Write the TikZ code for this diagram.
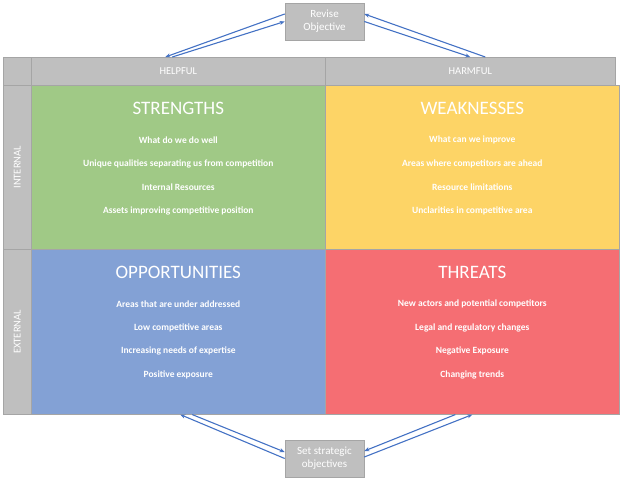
\documentclass[tikz,border=0pt]{standalone}
\usepackage{fontspec}
\setmainfont{Carlito}
\usetikzlibrary{arrows.meta}
\definecolor{cellgray}{HTML}{BFBFBF}
\definecolor{edgegray}{HTML}{A5A5A5}
\definecolor{sgreen}{HTML}{A0C986}
\definecolor{wyellow}{HTML}{FDD466}
\definecolor{oblue}{HTML}{83A1D5}
\definecolor{tred}{HTML}{F56E73}
\definecolor{arrowblue}{HTML}{4472C4}
\tikzset{
    cell/.style={draw=edgegray,fill=cellgray,line width=0.6pt,text=white,
        inner sep=0pt,font=\fontsize{10.5}{12}\selectfont},
    quad/.style={draw=edgegray,line width=0.6pt,inner sep=0pt,
        minimum width=294pt,minimum height=165pt},
    loop/.style={-{Stealth[length=5pt,width=4pt]},draw=arrowblue,line width=1.1pt},
}
\newcommand\Quadrant[6]{%
    \node[quad,fill=#4,anchor=north west] (#1) at (#2,#3) {};
    \node[text=white,font=\fontsize{19}{19}\selectfont] at ([yshift=-23.5pt]#1.north) {#5};
    \foreach \item [count=\i] in {#6} {
        \node[text=white,font=\fontsize{9.5}{10}\selectfont\bfseries]
            at ([yshift=-31.5pt-23.5pt*\i]#1.north) {\item};
    }
}

\begin{document}
\begin{tikzpicture}[x=1pt,y=-1pt]
    \useasboundingbox (0,0) rectangle (622,480);
    % header row and side column
    \node[cell,anchor=north west,minimum width=28pt,minimum height=28pt] (corner) at (3,57) {};
    \node[cell,anchor=north west,minimum width=294pt,minimum height=28pt] (helpful) at (31,57) {HELPFUL};
    \node[cell,anchor=north west,minimum width=290pt,minimum height=28pt] (harmful) at (325,57) {HARMFUL};
    \node[cell,anchor=north west,minimum width=28pt,minimum height=164pt] (internal) at (3,85) {};
    \node[cell,anchor=north west,minimum width=28pt,minimum height=165pt] (external) at (3,249) {};
    \node[text=white,rotate=90,font=\fontsize{10.5}{12}\selectfont] at (internal.center) {INTERNAL};
    \node[text=white,rotate=90,font=\fontsize{10.5}{12}\selectfont] at (external.center) {EXTERNAL};
    % the four quadrants
    \Quadrant{str}{31}{85}{sgreen}{STRENGTHS}{What do we do well,Unique qualities separating us from competition,Internal Resources,Assets improving competitive position}
    \Quadrant{weak}{325}{85}{wyellow}{WEAKNESSES}{What can we improve,Areas where competitors are ahead,Resource limitations,Unclarities in competitive area}
    \Quadrant{opp}{31}{249}{oblue}{OPPORTUNITIES}{Areas that are under addressed,Low competitive areas,Increasing needs of expertise,Positive exposure}
    \Quadrant{thr}{325}{249}{tred}{THREATS}{New actors and potential competitors,Legal and regulatory changes,Negative Exposure,Changing trends}
    % feedback boxes
    \node[cell,align=center,minimum width=79pt,minimum height=37pt,font=\fontsize{11}{13}\selectfont] (revise) at (324.5,21.5) {Revise\\Objective};
    \node[cell,align=center,minimum width=79pt,minimum height=37pt,font=\fontsize{11}{13}\selectfont] (setobj) at (324.5,458.5) {Set strategic\\objectives};
    % arrows
    \draw[loop] ([yshift=7.5pt]revise.west) -- ([xshift=-13pt]helpful.north);
    \draw[loop] ([xshift=-6pt]helpful.north) -- (revise.west);
    \draw[loop] ([xshift=15pt]harmful.north) -- ([yshift=7.5pt]revise.east);
    \draw[loop] (revise.east) -- (harmful.north);
    \draw[loop] (setobj.west) -- ([xshift=2pt]opp.south);
    \draw[loop] ([xshift=14pt]opp.south) -- ([yshift=6.5pt]setobj.west);
    \draw[loop] ([xshift=-17pt]thr.south) -- ([yshift=7.5pt]setobj.east);
    \draw[loop] ([yshift=1.5pt]setobj.east) -- (thr.south);
\end{tikzpicture}
\end{document}
